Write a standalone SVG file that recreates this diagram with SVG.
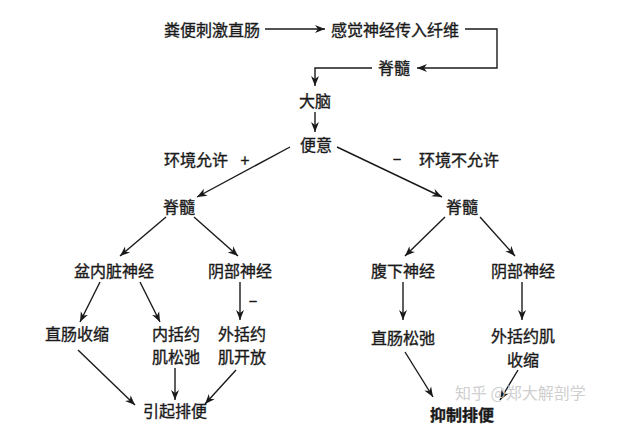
<svg xmlns="http://www.w3.org/2000/svg" width="621" height="427" viewBox="0 0 621 427">
<defs>
<marker id="ah" viewBox="0 0 10 10" refX="10" refY="5" markerWidth="10" markerHeight="10" markerUnits="userSpaceOnUse" orient="auto">
<path d="M0,1 L10,5 L0,9 L3,5 Z" fill="#1a1a1a"/>
</marker>
<style>
text{font-family:"Noto Sans CJK SC","Noto Sans",sans-serif;font-size:16px;fill:#1a1a1a;stroke:#1a1a1a;stroke-width:0.35;text-anchor:middle;dominant-baseline:central}
.c line,.c polyline{stroke:#1a1a1a;stroke-width:1.4;fill:none}
.a{marker-end:url(#ah)}
.b{font-weight:bold}
.wm{fill:#cfcfcf;stroke:none;font-size:16px;text-anchor:start}
</style>
</defs>
<rect width="621" height="427" fill="#ffffff"/>
<g class="c">
<line class="a" x1="265" y1="29" x2="325" y2="29"/>
<polyline class="a" points="465,29 497,29 497,68 417,68"/>
<polyline class="a" points="372,68 315,68 315,86"/>
<line class="a" x1="315" y1="112" x2="315" y2="132"/>
<line class="a" x1="290" y1="147" x2="197" y2="197"/>
<line class="a" x1="337" y1="147" x2="442" y2="197"/>
<line class="a" x1="166" y1="217" x2="120" y2="256"/>
<line class="a" x1="194" y1="217" x2="238" y2="256"/>
<line class="a" x1="100" y1="282" x2="80" y2="322"/>
<line class="a" x1="140" y1="282" x2="160" y2="322"/>
<line class="a" x1="240" y1="282" x2="240" y2="320"/>
<line class="a" x1="78" y1="350" x2="135" y2="405"/>
<line class="a" x1="175" y1="368" x2="175" y2="400"/>
<line class="a" x1="236" y1="370" x2="205" y2="404"/>
<line class="a" x1="445" y1="217" x2="405" y2="256"/>
<line class="a" x1="480" y1="217" x2="515" y2="256"/>
<line class="a" x1="403" y1="282" x2="403" y2="320"/>
<line class="a" x1="522" y1="282" x2="522" y2="320"/>
<line class="a" x1="405" y1="352" x2="433" y2="397"/>
<line class="a" x1="518" y1="370" x2="500" y2="400"/>
</g>
<g id="n1"><text x="212" y="29">粪便刺激直肠</text></g>
<g id="n2"><text x="395" y="29">感觉神经传入纤维</text></g>
<g id="n3"><text x="394" y="67">脊髓</text></g>
<g id="n4"><text x="315" y="100">大脑</text></g>
<g id="n5"><text x="316" y="144">便意</text></g>
<g id="l1"><text x="196" y="159">环境允许</text><text x="245" y="159">+</text></g>
<g id="l2"><text x="397" y="157">–</text><text x="459" y="159">环境不允许</text></g>
<g id="n6"><text x="179" y="206">脊髓</text></g>
<g id="n7"><text x="462" y="206">脊髓</text></g>
<g id="n8"><text x="114" y="270">盆内脏神经</text></g>
<g id="n9"><text x="240" y="270">阴部神经</text></g>
<g id="l3"><text x="253" y="299">–</text></g>
<g id="n10"><text x="77" y="333">直肠收缩</text></g>
<g id="n11"><text x="176" y="333">内括约</text><text x="176" y="356">肌松弛</text></g>
<g id="n12"><text x="242" y="333">外括约</text><text x="242" y="356">肌开放</text></g>
<g id="n13"><text x="175" y="410">引起排便</text></g>
<g id="n14"><text x="403" y="270">腹下神经</text></g>
<g id="n15"><text x="523" y="270">阴部神经</text></g>
<g id="n16"><text x="403" y="337">直肠松弛</text></g>
<g id="n17"><text x="523" y="335">外括约肌</text><text x="523" y="359">收缩</text></g>
<g id="n18"><text class="b" x="462" y="414">抑制排便</text></g>
<text class="wm" x="455" y="392">知乎 @郑大解剖学</text>
</svg>
